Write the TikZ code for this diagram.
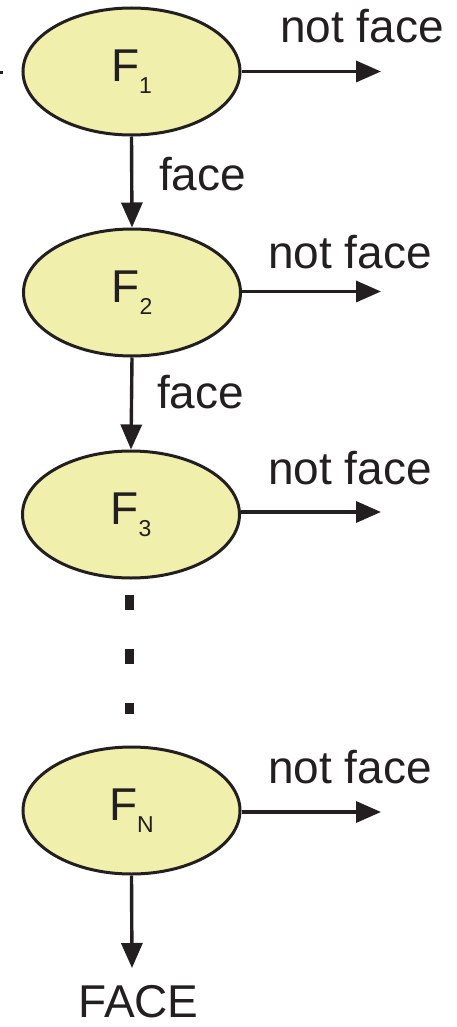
\documentclass[tikz,border=0pt]{standalone}
\usepackage{fontspec}
\setmainfont{Liberation Sans}
\usetikzlibrary{arrows.meta,shapes.geometric}
\definecolor{stagefill}{RGB}{240,239,172}
\definecolor{ink}{RGB}{35,31,32}
\newcommand{\stagelabel}[1]{F\raisebox{-12pt}{\fontsize{23}{23}\selectfont #1}}
\begin{document}
\begin{tikzpicture}[x=1pt,y=-1pt,
  stage/.style={ellipse,draw=ink,fill=stagefill,line width=3pt,
    minimum width=217pt,minimum height=127pt,inner sep=0pt,text=ink,
    font=\fontsize{46}{50}\selectfont},
  txt/.style={inner sep=0pt,text=ink,font=\fontsize{46}{50}\selectfont},
  flow/.style={draw=ink,line width=3.4pt,-{Triangle[length=25pt,width=21pt]}},
  gap/.style={draw=ink,line width=9pt,dash pattern=on 15pt off 39pt}]
\useasboundingbox (0,0) rectangle (456,1027);

% cascade stages
\node[stage] (F1) at (131.5,71.5) {\stagelabel{1}};
\node[stage] (F2) at (132,292.5) {\stagelabel{2}};
\node[stage] (F3) at (131,514.5) {\stagelabel{3}};
\node[stage] (FN) at (131.5,810.5) {\stagelabel{N}};

% rejection exits
\coordinate (R1) at (381,71.5);
\coordinate (R2) at (381,291.5);
\coordinate (R3) at (381,512);
\coordinate (RN) at (381,812);
\draw[flow] (F1.east |- R1) -- (R1);
\draw[flow] (F2.east |- R2) -- (R2);
\draw[flow] (F3.east |- R3) -- (R3);
\draw[flow] (FN.east |- RN) -- (RN);
\node[txt,anchor=base west] (n1) at (280,43) {not face};
\node[txt,anchor=base west] (n2) at (268,268) {not face};
\node[txt,anchor=base west] (n3) at (268,484) {not face};
\node[txt,anchor=base west] (nN) at (268,783) {not face};

% accepted path
\draw[flow] (F1.south) -- (F2.north);
\draw[flow] (F2.south) -- (F3.north);
\node[txt,anchor=base west] (a1) at (159,190) {face};
\node[txt,anchor=base west] (a2) at (157,408) {face};

% omitted stages
\draw[gap] ([yshift=-15pt]F3.south -| 129,0) -- ([yshift=32pt]FN.north -| 129,0);

% final output
\coordinate (out) at (132,968);
\draw[flow] (FN.south) -- (out);
\node[txt,anchor=base] (face) at (138.5,1017) {FACE};

% incoming mark at the left edge
\coordinate (in0) at (0,72.5);
\coordinate (in1) at (3,72.5);
\draw[ink,line width=2.5pt] (in0) -- (in1);
\end{tikzpicture}
\end{document}
